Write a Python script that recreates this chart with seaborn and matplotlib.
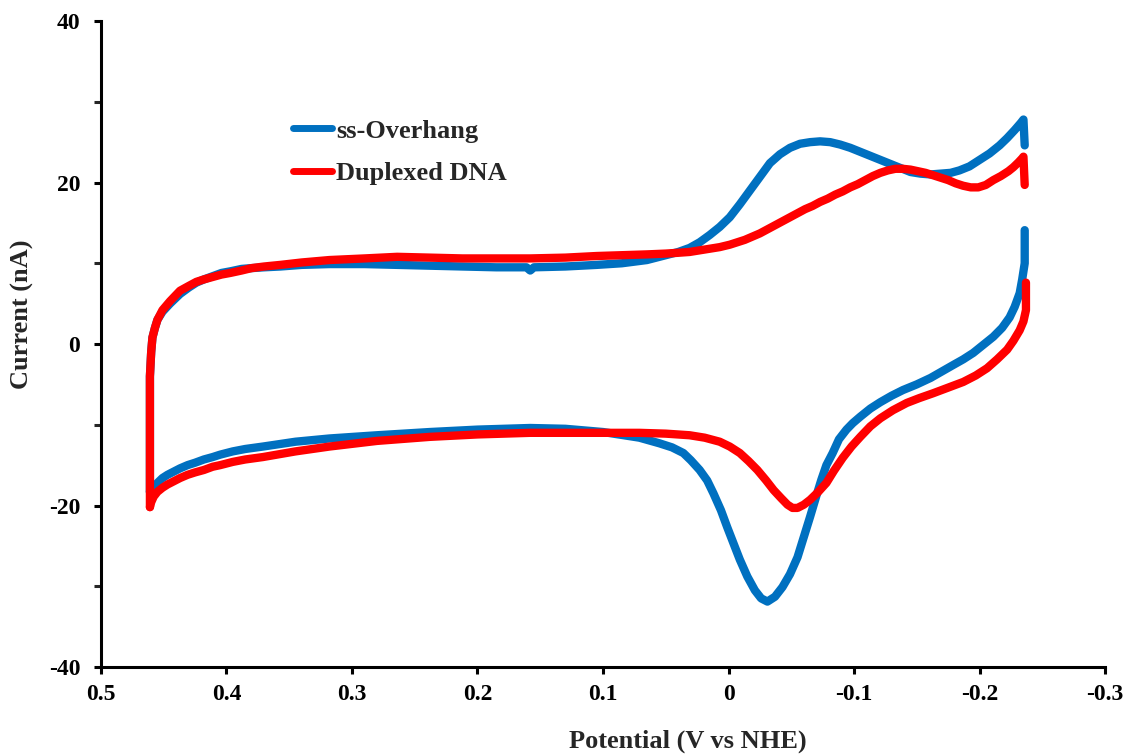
import matplotlib
matplotlib.use("Agg")
import matplotlib.pyplot as plt
from matplotlib.ticker import MultipleLocator
import pandas as pd
import seaborn as sns

# Cyclic voltammetry data (potential in V vs NHE, current in nA)
samples = ["ss-Overhang", "Duplexed DNA"]
colors = ["#0070C0", "#FF0000"]

# ss-Overhang, forward (cathodic-going) sweep
ss_fwd_E = [0.461, 0.461, 0.461, 0.460, 0.459, 0.457, 0.455, 0.451, 0.445, 0.437,
            0.430, 0.424, 0.418, 0.411, 0.404, 0.397, 0.388, 0.380, 0.370, 0.357,
            0.340, 0.318, 0.290, 0.264, 0.238, 0.212, 0.185, 0.161, 0.158, 0.155,
            0.130, 0.105, 0.085, 0.065, 0.050, 0.040, 0.031, 0.023, 0.015, 0.007,
            -0.001, -0.009, -0.017, -0.025, -0.033, -0.041, -0.049, -0.057, -0.065,
            -0.073, -0.081, -0.089, -0.097, -0.105, -0.113, -0.121, -0.129, -0.137,
            -0.145, -0.153, -0.161, -0.169, -0.177, -0.184, -0.192, -0.200, -0.208,
            -0.216, -0.222, -0.228, -0.233, -0.235, -0.236]
ss_fwd_I = [-18.3, -10.0, -4.0, -1.0, 0.8, 2.0, 3.0, 4.0, 5.0, 6.2,
            7.0, 7.6, 8.0, 8.4, 8.8, 9.0, 9.3, 9.4, 9.5, 9.6,
            9.8, 9.9, 9.9, 9.8, 9.7, 9.6, 9.5, 9.5, 9.1, 9.5,
            9.6, 9.8, 10.0, 10.4, 11.0, 11.4, 11.9, 12.6, 13.5, 14.5,
            15.7, 17.3, 19.0, 20.7, 22.4, 23.5, 24.3, 24.8, 25.0,
            25.1, 25.0, 24.7, 24.3, 23.8, 23.3, 22.8, 22.3, 21.8,
            21.3, 21.1, 21.0, 21.1, 21.2, 21.5, 22.0, 22.8, 23.6,
            24.6, 25.5, 26.5, 27.4, 27.8, 24.6]

# ss-Overhang, reverse (anodic-going) sweep
ss_rev_E = [-0.236, -0.236, -0.234, -0.232, -0.228, -0.224, -0.218, -0.211, -0.203,
            -0.195, -0.187, -0.179, -0.170, -0.161, -0.150, -0.139, -0.130, -0.121,
            -0.113, -0.105, -0.099, -0.094, -0.088, -0.083, -0.078, -0.074, -0.070,
            -0.065, -0.060, -0.055, -0.049, -0.043, -0.037, -0.031, -0.026, -0.021,
            -0.015, -0.009, -0.004, 0.001, 0.006, 0.012, 0.017, 0.023, 0.030, 0.036,
            0.045, 0.055, 0.071, 0.100, 0.130, 0.158, 0.200, 0.238, 0.280, 0.318,
            0.345, 0.371, 0.385, 0.395, 0.405, 0.411, 0.418, 0.425, 0.431, 0.437,
            0.442, 0.447, 0.451, 0.455, 0.458, 0.460, 0.461]
ss_rev_I = [14.1, 10.0, 8.0, 6.3, 4.6, 3.3, 2.0, 0.9, -0.1,
            -1.1, -1.9, -2.6, -3.4, -4.2, -5.0, -5.7, -6.4, -7.2,
            -8.0, -9.0, -9.8, -10.6, -11.8, -13.5, -15.0, -16.8, -18.8,
            -21.4, -23.9, -26.4, -28.5, -30.1, -31.3, -31.9, -31.5, -30.5,
            -28.8, -26.7, -24.7, -22.7, -20.6, -18.5, -16.9, -15.6, -14.4, -13.5,
            -12.8, -12.3, -11.6, -10.9, -10.5, -10.4, -10.6, -10.9, -11.3, -11.7,
            -12.1, -12.7, -13.0, -13.3, -13.7, -14.0, -14.3, -14.7, -15.0, -15.4,
            -15.8, -16.2, -16.6, -17.2, -17.7, -18.1, -18.3]

# Duplexed DNA, forward sweep
ds_fwd_E = [0.461, 0.461, 0.461, 0.460, 0.459, 0.457, 0.455, 0.451, 0.445, 0.437,
            0.430, 0.424, 0.418, 0.411, 0.404, 0.397, 0.388, 0.380, 0.370, 0.357,
            0.340, 0.318, 0.290, 0.264, 0.238, 0.212, 0.185, 0.158, 0.130, 0.105,
            0.085, 0.065, 0.050, 0.040, 0.031, 0.023, 0.015, 0.007, -0.001, -0.007,
            -0.013, -0.019, -0.025, -0.031, -0.037, -0.043, -0.049, -0.055, -0.061,
            -0.067, -0.073, -0.079, -0.085, -0.091, -0.097, -0.103, -0.109, -0.115,
            -0.121, -0.127, -0.133, -0.139, -0.145, -0.151, -0.157, -0.163, -0.169,
            -0.175, -0.181, -0.187, -0.193, -0.199, -0.205, -0.211, -0.217, -0.223,
            -0.227, -0.231, -0.234, -0.235, -0.236]
ds_fwd_I = [-20.2, -10.0, -4.0, -1.0, 0.8, 2.0, 3.0, 4.2, 5.3, 6.6,
            7.2, 7.7, 8.0, 8.3, 8.6, 8.8, 9.1, 9.4, 9.6, 9.8,
            10.1, 10.4, 10.6, 10.8, 10.7, 10.6, 10.6, 10.6, 10.7, 10.9,
            11.0, 11.1, 11.2, 11.3, 11.4, 11.6, 11.8, 12.0, 12.3, 12.6,
            12.9, 13.3, 13.7, 14.2, 14.7, 15.2, 15.7, 16.2, 16.7,
            17.1, 17.6, 18.0, 18.5, 18.9, 19.4, 19.8, 20.3, 20.8,
            21.2, 21.5, 21.7, 21.7, 21.6, 21.4, 21.2, 20.9, 20.6,
            20.3, 19.9, 19.6, 19.4, 19.4, 19.7, 20.3, 20.8, 21.4,
            21.9, 22.5, 23.0, 23.2, 19.7]

# Duplexed DNA, reverse sweep
ds_rev_E = [-0.237, -0.237, -0.235, -0.232, -0.227, -0.222, -0.214, -0.206, -0.197,
            -0.187, -0.175, -0.163, -0.152, -0.142, -0.131, -0.121, -0.113, -0.105,
            -0.098, -0.091, -0.084, -0.078, -0.071, -0.065, -0.060, -0.055, -0.051,
            -0.047, -0.042, -0.036, -0.030, -0.023, -0.016, -0.009, -0.001, 0.007,
            0.019, 0.031, 0.050, 0.071, 0.100, 0.130, 0.158, 0.200, 0.238, 0.280,
            0.318, 0.345, 0.371, 0.385, 0.395, 0.405, 0.411, 0.418, 0.425, 0.431,
            0.437, 0.442, 0.447, 0.451, 0.455, 0.458, 0.460, 0.461]
ds_rev_I = [7.6, 4.2, 2.8, 1.7, 0.4, -0.7, -1.9, -3.0, -3.9,
            -4.7, -5.4, -6.1, -6.7, -7.3, -8.2, -9.2, -10.2, -11.5,
            -12.7, -14.1, -15.7, -17.2, -18.4, -19.3, -19.9, -20.3, -20.3,
            -19.9, -19.1, -18.1, -16.9, -15.6, -14.5, -13.5, -12.7, -12.1,
            -11.6, -11.3, -11.1, -11.0, -11.0, -11.0, -11.0, -11.2, -11.5, -12.0,
            -12.7, -13.3, -14.0, -14.3, -14.6, -15.0, -15.2, -15.6, -15.9, -16.2,
            -16.6, -17.0, -17.4, -17.8, -18.3, -18.9, -19.6, -20.2]

x_ticks = [0.5, 0.4, 0.3, 0.2, 0.1, 0.0, -0.1, -0.2, -0.3]
x_tick_labels = ["0.5", "0.4", "0.3", "0.2", "0.1", "0", "-0.1", "-0.2", "-0.3"]
y_ticks = [-40, -20, 0, 20, 40]
y_tick_labels = ["-40", "-20", "0", "20", "40"]

frames = []
for name, branches in [
    (samples[0], [("fwd", ss_fwd_E, ss_fwd_I), ("rev", ss_rev_E, ss_rev_I)]),
    (samples[1], [("fwd", ds_fwd_E, ds_fwd_I), ("rev", ds_rev_E, ds_rev_I)]),
]:
    for branch, E, I in branches:
        frames.append(pd.DataFrame({"Potential": E, "Current": I,
                                    "Sample": name, "Branch": branch}))
df = pd.concat(frames, ignore_index=True)

sns.set_style("ticks")
plt.rcParams["font.family"] = ["Liberation Serif", "DejaVu Serif"]
plt.rcParams["font.weight"] = "bold"
plt.rcParams["axes.unicode_minus"] = False

fig = plt.figure(figsize=(11.27, 7.54), dpi=100)
ax = fig.add_axes([0.0896, 0.1154, 0.8909, 0.8567])

sns.lineplot(data=df, x="Potential", y="Current", hue="Sample", units="Branch",
             estimator=None, sort=False, palette=colors, hue_order=samples,
             linewidth=6, ax=ax, solid_joinstyle="round", solid_capstyle="round")

ax.set_xlim(0.5, -0.3)
ax.set_ylim(-40, 40)
ax.set_xticks(x_ticks)
ax.set_xticklabels(x_tick_labels)
ax.set_yticks(y_ticks)
ax.set_yticklabels(y_tick_labels)
ax.yaxis.set_minor_locator(MultipleLocator(10))

for side in ["top", "right"]:
    ax.spines[side].set_visible(False)
for side in ["left", "bottom"]:
    ax.spines[side].set_linewidth(2.2)
    ax.spines[side].set_color("black")

ax.tick_params(axis="both", which="major", direction="out", length=5, width=2.2,
               labelsize=17, color="black", labelcolor="black")
ax.tick_params(axis="x", which="major", pad=7)
ax.tick_params(axis="y", which="major", pad=10)
ax.tick_params(axis="y", which="minor", direction="out", length=5, width=2.2)
for lab in ax.get_xticklabels() + ax.get_yticklabels():
    lab.set_fontweight("bold")

ax.set_xlabel("Potential (V vs NHE)", fontsize=19, fontweight="bold")
ax.xaxis.label.set_verticalalignment("baseline")
ax.xaxis.set_label_coords(0.584, -0.124)
ax.set_ylabel("Current (nA)", fontsize=19, fontweight="bold")
ax.yaxis.set_label_coords(-0.067, 0.546)

leg = ax.legend(loc="upper left", bbox_to_anchor=(0.191, 0.848), frameon=False,
                fontsize=19, handlelength=1.5, handletextpad=0.15,
                labelspacing=0.72, borderaxespad=0, borderpad=0)
for t in leg.get_texts():
    t.set_fontweight("bold")
for h in leg.get_lines():
    h.set_linewidth(5)
    h.set_solid_capstyle("round")

fig.savefig("out.png", dpi=100)
